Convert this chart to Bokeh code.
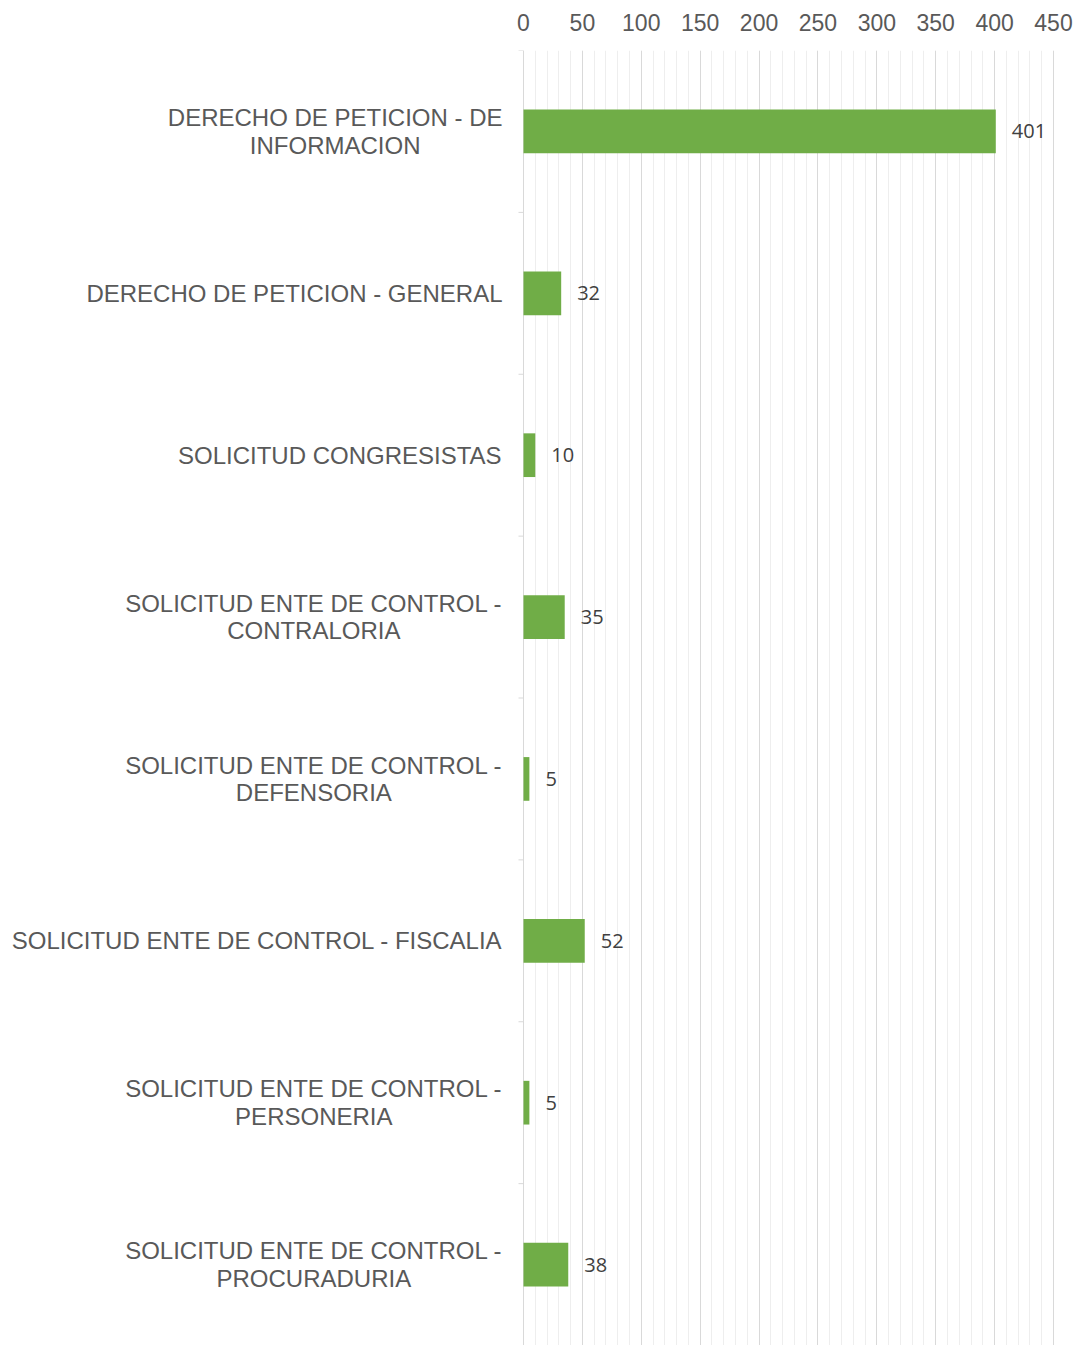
from bokeh.plotting import figure
from bokeh.models import ColumnDataSource, FixedTicker, Range1d
from bokeh.core.properties import value
from bokeh.embed import file_html
from bokeh.resources import INLINE

# ---- data ----
categories = [
    "DERECHO DE PETICION - DE\nINFORMACION",
    "DERECHO DE PETICION - GENERAL",
    "SOLICITUD CONGRESISTAS",
    "SOLICITUD ENTE DE CONTROL -\nCONTRALORIA",
    "SOLICITUD ENTE DE CONTROL -\nDEFENSORIA",
    "SOLICITUD ENTE DE CONTROL - FISCALIA",
    "SOLICITUD ENTE DE CONTROL -\nPERSONERIA",
    "SOLICITUD ENTE DE CONTROL -\nPROCURADURIA",
]
counts = [401, 32, 10, 35, 5, 52, 5, 38]
major_ticks = [0, 50, 100, 150, 200, 250, 300, 350, 400, 450]
minor_ticks = list(range(0, 451, 10))

# ---- layout constants ----
W, H = 1081, 1345
ZERO_PX = 523          # x=0 position inside the figure (px)
PX_PER_UNIT = 530 / 450
TOP = 50
LABEL_FS = 24
LABEL_GAP = 21

x_start = -ZERO_PX / PX_PER_UNIT
x_end = x_start + W / PX_PER_UNIT

# Arial / Liberation Sans advance widths (1/1000 em) to center multi-line labels
AW = dict(A=667, B=667, C=722, D=722, E=667, F=611, G=778, H=722, I=278, J=500,
          K=667, L=556, M=833, N=722, O=778, P=667, Q=778, R=722, S=667, T=611,
          U=722, V=667, W=944, X=667, Y=667, Z=611)
AW[" "] = 278
AW["-"] = 333


def text_w(s):
    return max(sum(AW.get(c, 600) for c in line) for line in s.split("\n")) * LABEL_FS / 1000


n = len(categories)
ys = [i + 0.5 for i in range(n)]
src = ColumnDataSource(dict(
    y=ys, v=counts, cat=categories, lbl=[str(c) for c in counts],
    zero=[0] * n, xo=[-(LABEL_GAP + text_w(c) / 2) for c in categories],
))

p = figure(width=W, height=H, output_backend="svg", toolbar_location=None,
           x_range=Range1d(x_start, x_end), y_range=Range1d(n, 0),
           x_axis_location="above", min_border_left=0, min_border_right=0,
           min_border_top=TOP, min_border_bottom=0)
p.outline_line_color = None
p.background_fill_color = "white"
p.border_fill_color = "white"

# grid
p.xgrid.ticker = FixedTicker(ticks=major_ticks, minor_ticks=minor_ticks)
p.xgrid.grid_line_color = "#D9D9D9"
p.xgrid.grid_line_width = 1
p.xgrid.minor_grid_line_color = "#EEEEEE"
p.ygrid.grid_line_color = None

# axes
p.yaxis.visible = False
xa = p.xaxis[0]
xa.ticker = FixedTicker(ticks=major_ticks, minor_ticks=[])
xa.axis_line_color = None
xa.major_tick_line_color = None
xa.minor_tick_line_color = None
xa.major_label_text_font = "Liberation Sans"
xa.major_label_text_font_size = "23px"
xa.major_label_text_color = "#595959"
xa.major_label_standoff = 14

# category boundary tick marks
tick_len = 5 / PX_PER_UNIT
bounds = list(range(n + 1))
p.segment(x0=[-tick_len] * len(bounds), x1=[0] * len(bounds), y0=bounds, y1=bounds,
          line_color="#D9D9D9", line_width=1)

# bars
p.hbar(y="y", left="zero", right="v", height=0.27, source=src,
       fill_color="#70AD47", line_color=None)

# value labels
p.text(x="v", y="y", text="lbl", source=src, x_offset=16,
       text_align="left", text_baseline="middle",
       text_font=value("Open Sans"), text_font_size="20px", text_color="#404040")

# category labels
p.text(x="zero", y="y", text="cat", source=src, x_offset="xo",
       text_align="center", text_baseline="middle", text_line_height=1.02,
       text_font=value("Liberation Sans"), text_font_size=f"{LABEL_FS}px",
       text_color="#595959")

open("out.html", "w").write(file_html(p, INLINE))
